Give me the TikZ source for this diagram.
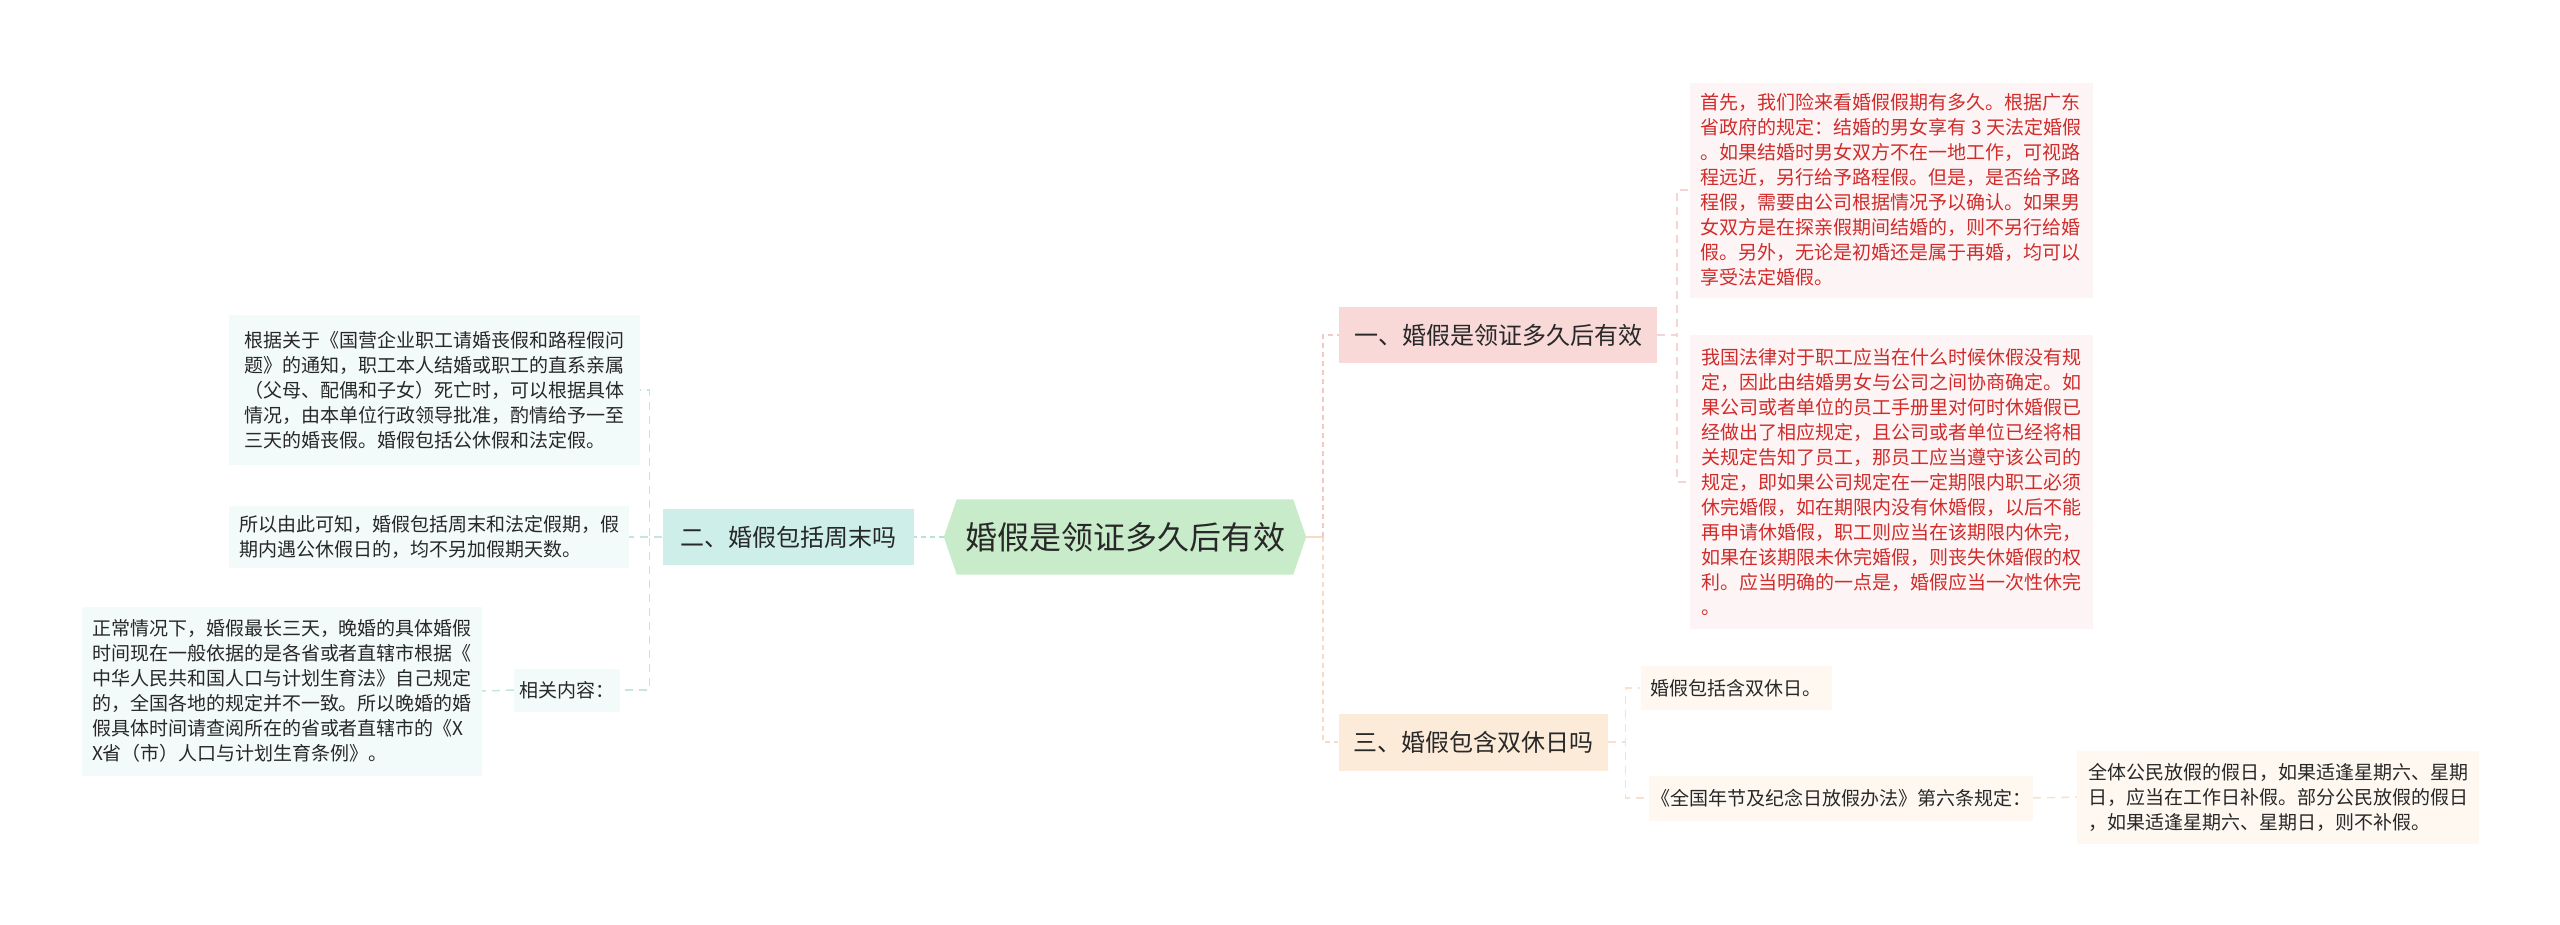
\documentclass[tikz,border=0pt]{standalone}
\usepackage{fontspec}
\setmainfont{Noto Sans CJK SC}
\usetikzlibrary{backgrounds}
\definecolor{txt}{RGB}{40,40,40}
\definecolor{redtxt}{RGB}{208,44,44}
\definecolor{cfill}{RGB}{200,236,202}
\definecolor{pfill}{RGB}{249,216,216}
\definecolor{tfill}{RGB}{205,238,233}
\definecolor{ofill}{RGB}{253,235,217}
\definecolor{pleaf}{RGB}{253,245,245}
\definecolor{tleaf}{RGB}{243,250,250}
\definecolor{oleaf}{RGB}{254,248,241}
\definecolor{pline}{RGB}{245,200,200}
\definecolor{tline}{RGB}{180,225,219}
\definecolor{oline}{RGB}{249,218,196}
\definecolor{pline2}{RGB}{246,212,212}
\definecolor{tline2}{RGB}{196,230,226}
\definecolor{oline2}{RGB}{246,226,210}
\begin{document}
\begin{tikzpicture}[x=1pt,y=-1pt,
  leaf/.style={inner sep=0pt, align=left, text=txt, font=\fontsize{19}{25}\selectfont},
  topic/.style={inner sep=0pt, text=txt, font=\fontsize{24}{28}\selectfont},
  trunk/.style={line width=2.5pt, dash pattern=on 5pt off 4pt},
  conn/.style={line width=1.5pt, dash pattern=on 8pt off 6pt},
]
\useasboundingbox (0,0) rectangle (2560,924);

% central
\node[inner sep=0pt, minimum width=362, minimum height=75, text=txt,
  font=\fontsize{32}{38}\selectfont] (c) at (1125,537) {婚假是领证多久后有效};

% main topics
\node[topic, fill=pfill, minimum width=318, minimum height=56] (n1) at (1498,335) {一、婚假是领证多久后有效};
\node[topic, fill=tfill, minimum width=251, minimum height=56] (n2) at (788,537) {二、婚假包括周末吗};
\node[topic, fill=ofill, minimum width=269, minimum height=57] (n3) at (1473,742) {三、婚假包含双休日吗};

% branch 1 leaves
\node[leaf, text=redtxt, fill=pleaf, minimum width=403, minimum height=215] (r1) at (1891,190) {首先，我们险来看婚假假期有多久。根据广东\\省政府的规定：结婚的男女享有 3 天法定婚假\\。如果结婚时男女双方不在一地工作，可视路\\程远近，另行给予路程假。但是，是否给予路\\程假，需要由公司根据情况予以确认。如果男\\女双方是在探亲假期间结婚的，则不另行给婚\\假。另外，无论是初婚还是属于再婚，均可以\\享受法定婚假。};
\node[leaf, text=redtxt, fill=pleaf, minimum width=403, minimum height=294] (r2) at (1891,482) {我国法律对于职工应当在什么时候休假没有规\\定，因此由结婚男女与公司之间协商确定。如\\果公司或者单位的员工手册里对何时休婚假已\\经做出了相应规定，且公司或者单位已经将相\\关规定告知了员工，那员工应当遵守该公司的\\规定，即如果公司规定在一定期限内职工必须\\休完婚假，如在期限内没有休婚假，以后不能\\再申请休婚假，职工则应当在该期限内休完，\\如果在该期限未休完婚假，则丧失休婚假的权\\利。应当明确的一点是，婚假应当一次性休完\\。};

% branch 2 leaves
\node[leaf, fill=tleaf, minimum width=411, minimum height=150] (l1) at (434,390) {根据关于《国营企业职工请婚丧假和路程假问\\题》的通知，职工本人结婚或职工的直系亲属\\（父母、配偶和子女）死亡时，可以根据具体\\情况，由本单位行政领导批准，酌情给予一至\\三天的婚丧假。婚假包括公休假和法定假。};
\node[leaf, fill=tleaf, minimum width=400, minimum height=62] (l2) at (429,537) {所以由此可知，婚假包括周末和法定假期，假\\期内遇公休假日的，均不另加假期天数。};
\node[leaf, fill=tleaf, minimum width=106, minimum height=43] (rel) at (567,690) {相关内容：};
\node[leaf, fill=tleaf, minimum width=400, minimum height=169] (l3) at (282,691) {正常情况下，婚假最长三天，晚婚的具体婚假\\时间现在一般依据的是各省或者直辖市根据《\\中华人民共和国人口与计划生育法》自己规定\\的，全国各地的规定并不一致。所以晚婚的婚\\假具体时间请查阅所在的省或者直辖市的《X\\X省（市）人口与计划生育条例》。};

% branch 3 leaves
\node[leaf, fill=oleaf, minimum width=191, minimum height=44] (s1) at (1736,688) {婚假包括含双休日。};
\node[leaf, fill=oleaf, minimum width=384, minimum height=45] (s2) at (1841,798) {《全国年节及纪念日放假办法》第六条规定：};
\node[leaf, fill=oleaf, minimum width=402, minimum height=93] (s3) at (2278,797) {全体公民放假的假日，如果适逢星期六、星期\\日，应当在工作日补假。部分公民放假的假日\\，如果适逢星期六、星期日，则不补假。};

\begin{scope}[on background layer]
\fill[white] (0,0) rectangle (2560,924);
\fill[cfill] (c.west) -- ([xshift=13]c.north west) -- ([xshift=-13]c.north east) -- (c.east)
  -- ([xshift=-13]c.south east) -- ([xshift=13]c.south west) -- cycle;
% connectors
\draw[line width=2.5pt, oline] (c.east) -- ([xshift=17]c.east);
\draw[trunk, pline] ([xshift=17]c.east) |- (n1.west);
\draw[trunk, oline] ([xshift=17]c.east) |- (n3.west);
\draw[conn, pline2] (n1.east) -- ++(20,0) |- (r1.west);
\draw[conn, pline2] (n1.east) -- ++(20,0) |- (r2.west);
\draw[trunk, tline] (c.west) -- (n2.east);
\draw[conn, tline2] (n2.west) -- ++(-13,0) |- (l1.east);
\draw[conn, tline2] (n2.west) -- ++(-13,0) |- (l2.east);
\draw[conn, tline2] (n2.west) -- ++(-13,0) |- (rel.east);
\draw[conn, tline2] (rel.west) -- (l3.east);
\draw[conn, oline2] (n3.east) -- ++(18,0) |- (s1.west);
\draw[conn, oline2] (n3.east) -- ++(18,0) |- (s2.west);
\draw[conn, oline2] (s2.east) -- (s3.west);
\end{scope}
\end{tikzpicture}
\end{document}
